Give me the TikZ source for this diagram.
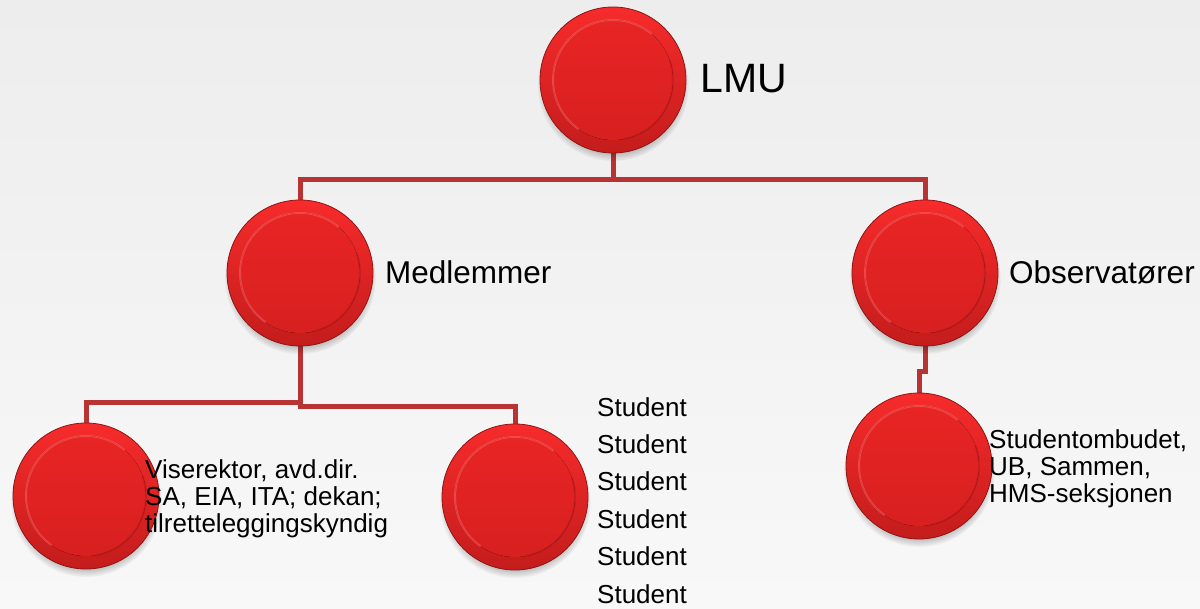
\documentclass[tikz,border=0pt]{standalone}
\usepackage{fontspec}
\setmainfont{Liberation Sans}
\usetikzlibrary{shadows,fadings,backgrounds}
\definecolor{bgtop}{HTML}{EDEDED}
\definecolor{bgbot}{HTML}{F8F8F8}
\definecolor{btntop}{HTML}{F72B2B}
\definecolor{btnbot}{HTML}{C41C1C}
\definecolor{btnedge}{HTML}{8E1414}
\definecolor{innertop}{HTML}{EA2525}
\definecolor{innerbot}{HTML}{D61F1F}
\definecolor{rimlight}{HTML}{FF6E6E}
\definecolor{rimdark}{HTML}{A81818}
\definecolor{conncol}{HTML}{B83434}
\tikzset{
  btn/.style={circle, minimum size=146pt, inner sep=0pt, draw=btnedge, line width=0.8pt,
    top color=btntop, bottom color=btnbot,
    circular drop shadow={shadow xshift=0pt, shadow yshift=-5pt, shadow scale=1.04, fill=black, opacity=0.3},
    path picture={
      \fill[top color=innertop, bottom color=innerbot] (path picture bounding box.center) circle[radius=60pt];
      \draw[line width=2pt, rimlight, opacity=0.45] ([shift={(235:60pt)}]path picture bounding box.center) arc[start angle=235, end angle=50, radius=60pt];
      \draw[line width=2pt, rimdark, opacity=0.4] ([shift={(20:60pt)}]path picture bounding box.center) arc[start angle=20, end angle=-80, radius=60pt];
    }},
  conn/.style={draw=conncol, line width=5pt},
  lbl/.style={inner sep=0pt, anchor=base west, text=black}
}
\begin{document}
\begin{tikzpicture}[x=1pt,y=-1pt]
\useasboundingbox (0,0) rectangle (1200,609);
% buttons
\node[btn] (lmu) at (613,80) {};
\node[btn] (med) at (300,273) {};
\node[btn] (obs) at (925,273) {};
\node[btn] (vis) at (86,496) {};
\node[btn] (stu) at (515,497) {};
\node[btn] (sto) at (919,466) {};
% background and connectors behind the buttons
\begin{scope}[on background layer]
\shade[top color=bgtop, bottom color=bgbot] (0,0) rectangle (1200,609);
\draw[conn] (lmu.south) -- ++(0,26) -| (med.north);
\draw[conn] (lmu.south) -- ++(0,26) -| (obs.north);
\draw[conn] (med.south) -- ++(0,56) -| (vis.north);
\draw[conn] (med.south) -- ++(0,60) -| (stu.north);
\draw[conn] (obs.south) -- ++(0,25) -| (sto.north);
\end{scope}
% labels
\node[lbl, font=\fontsize{41}{49}\selectfont] (lmuT) at (700,93) {LMU};
\node[lbl, font=\fontsize{31.5}{38}\selectfont] (medT) at (385,284) {Medlemmer};
\node[lbl, font=\fontsize{31.5}{38}\selectfont] (obsT) at (1009,284) {Observatører};
\node[lbl, align=left, font=\fontsize{26}{27}\selectfont] (visT) at (145,532) {Viserektor, avd.dir.\\SA, EIA, ITA; dekan;\\tilretteleggingskyndig};
\node[lbl, align=left, font=\fontsize{26}{37.4}\selectfont] (stuT) at (597,603) {Student\\Student\\Student\\Student\\Student\\Student};
\node[lbl, align=left, font=\fontsize{26}{27}\selectfont] (stoT) at (989,502) {Studentombudet,\\UB, Sammen,\\HMS-seksjonen};
\end{tikzpicture}
\end{document}
